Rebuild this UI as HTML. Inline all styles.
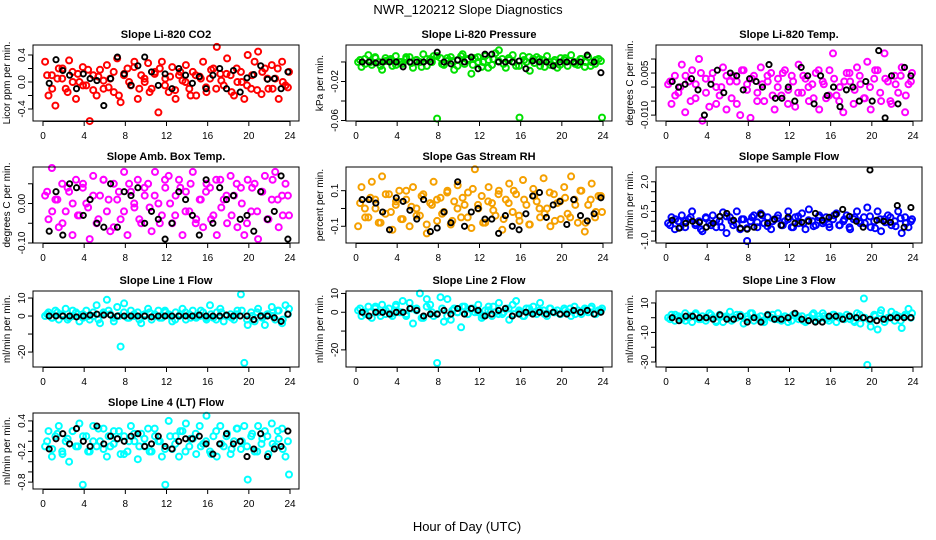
<!DOCTYPE html>
<html><head><meta charset="utf-8">
<style>
html,body{margin:0;padding:0;background:#fff;}
svg{display:block;font-family:"Liberation Sans",Arial,sans-serif;}
</style></head>
<body>
<svg id="chart" width="936" height="540" viewBox="0 0 936 540" xmlns="http://www.w3.org/2000/svg">
<rect width="936" height="540" fill="#fff"/>
<text x="468" y="14" text-anchor="middle" font-size="13">NWR_120212  Slope Diagnostics</text>
<text x="467" y="531" text-anchor="middle" font-size="13">Hour of Day (UTC)</text>
</svg>
<script>
const co2Vals=[0.3,-0.2,0.1,-0.35,0.2,0.05,-0.1,0.32,0.15,-0.25,0.0,0.22,
-0.05,-0.58,0.1,-0.2,0.18,-0.1,0.25,0.05,-0.15,0.35,-0.3,0.12,
0.2,-0.05,0.3,-0.25,0.1,0.0,0.28,-0.1,0.15,-0.45,0.3,0.05,
-0.15,0.22,-0.25,0.1,0.02,0.25,-0.1,0.15,-0.2,0.08,0.3,-0.15,
0.05,0.2,0.52,0.12,-0.05,0.35,0.1,-0.2,0.0,0.15,-0.25,0.4,
-0.1,0.3,0.45,-0.18,0.2,-0.1,0.25,0.05,-0.25,0.3,-0.05,0.15];
const co2Core=[0.1,-0.1,0.05,0.2,-0.15,0.0,0.12,-0.05,0.18,-0.12,0.08,0.02,-0.08,0.15,-0.2,0.1,0.0,0.22,-0.1,0.05,-0.15,0.12,0.2,-0.05,0.08,-0.12,0.15,0.0,-0.2,0.1,0.05,-0.08,0.18,-0.1,0.02,0.12,-0.15,0.2,0.0,-0.05,0.1,-0.12,0.15,0.05,-0.1,0.2,0.0,-0.08];
const co2Ref=[-0.02,0.33,0.17,0.1,-0.1,0.12,0.05,0.02,-0.35,0.05,0.37,0.12,-0.05,0.24,0.37,0.15,-0.05,0.12,-0.1,0.2,0.1,-0.02,0.08,-0.1,0.1,0.2,-0.1,0.17,-0.15,0.06,0.11,0.24,0.04,0.05,-0.1,0.15];
const presVals=[0.0,-0.005,0.003,0.007,-0.003,0.005,0.0,-0.008,0.004,0.002,-0.004,0.006,
0.0,-0.002,0.003,0.005,-0.006,0.002,0.0,0.008,-0.004,0.003,0.006,-0.058,
0.004,-0.003,0.001,0.005,-0.008,0.002,0.006,-0.002,0.003,-0.012,0.004,0.0,
-0.005,0.006,0.002,-0.003,0.009,0.012,0.003,-0.006,0.002,0.007,-0.004,-0.057,
0.006,0.0,-0.009,0.003,0.005,-0.004,0.002,0.006,-0.003,0.0,-0.006,0.004,
0.002,-0.004,0.007,0.0,-0.003,0.003,-0.005,0.005,0.0,-0.002,0.003,-0.057];
const presCore=[0.002,-0.002,0.0,0.004,-0.004,0.001,0.003,-0.003,0.0,0.005,-0.001,0.002,-0.005,0.003,0.0,0.006,-0.002,0.004,0.001,-0.004,0.008,0.002,-0.003,0.005,0.0,-0.006,0.003,0.001,-0.002,0.004,0.0,-0.004,0.002,0.005,-0.001,0.003,-0.005,0.0,0.002,-0.003,0.004,0.001,-0.002,0.003,0.0,-0.004,0.002,0.001];
const presRef=[0,0,-0.001,0,0,0,-0.005,0,0,0,0,0.01,0,-0.002,0.002,0,0.005,-0.007,0.008,0.008,0,0,0,0.001,-0.007,0.001,0,0,-0.004,0,0,0,0,0.007,0,-0.011];
const tempVals=[0.001,-0.006,0.004,-0.002,0.008,-0.009,0.002,0.006,-0.004,0.010,-0.012,0.003,
-0.007,0.005,0.0,-0.003,0.007,-0.008,0.002,0.004,-0.006,-0.010,0.006,0.001,
-0.011,0.004,-0.002,0.007,-0.005,0.002,0.005,-0.008,0.003,-0.003,0.006,-0.001,
0.004,-0.007,0.008,-0.002,0.003,-0.005,0.001,0.005,-0.008,0.002,-0.004,0.006,
0.012,-0.003,0.0,-0.009,0.005,0.002,-0.006,0.007,0.001,-0.004,0.009,-0.008,
0.003,0.006,-0.005,0.012,0.002,-0.006,0.004,-0.002,0.007,-0.009,0.001,0.005];
const tempCore=[0.002,-0.003,0.0,0.004,-0.005,0.001,0.005,-0.002,0.003,-0.006,0.0,0.004,-0.004,0.002,0.006,-0.001,0.003,-0.005,0.001,0.004,-0.003,0.0,0.005,-0.006,0.002,-0.002,0.004,0.0,-0.004,0.006,0.001,-0.003,0.003,-0.005,0.002,0.005,-0.001,0.004,-0.004,0.0,0.006,-0.002,0.003,-0.005,0.001,0.004,-0.003,0.002];
const tempRef=[0.002,0.0,0.001,0.003,-0.001,-0.010,0.001,0.006,-0.002,0.005,0.004,-0.001,0.003,0.002,0.0,0.008,-0.004,-0.004,0.0,-0.005,0.007,0.004,-0.006,0.004,-0.003,0.0,-0.007,-0.001,0.0,-0.005,0.002,-0.005,0.013,-0.011,0.004,-0.006,0.007,0.004];
const ambVals=[0.02,-0.04,0.09,0.01,-0.06,0.05,-0.02,0.03,-0.08,0.06,-0.03,0.04,
0.0,-0.09,0.07,-0.05,0.02,0.06,-0.02,-0.07,0.05,0.01,-0.04,0.08,
-0.08,0.03,-0.01,0.06,-0.05,0.02,0.05,-0.07,0.08,0.0,-0.03,0.04,
0.07,-0.05,0.02,0.06,-0.08,0.03,-0.02,0.08,-0.04,0.01,-0.06,0.05,
0.04,-0.03,-0.08,0.06,0.01,-0.05,0.07,0.02,-0.06,0.04,-0.08,0.06,
-0.02,0.05,-0.09,0.03,0.07,-0.04,0.01,0.08,-0.06,0.02,0.05,-0.03];
const ambCore=[0.03,-0.02,0.01,-0.05,0.04,0.0,-0.03,0.05,-0.01,0.02,-0.04,0.06,0.01,-0.06,0.03,-0.02,0.05,0.0,-0.04,0.04,-0.01,0.02,-0.05,0.06,0.0,-0.03,0.04,-0.02,0.05,-0.05,0.01,0.03,-0.04,0.06,-0.01,0.02,-0.03,0.05,0.0,-0.05,0.04,-0.02,0.03,-0.04,0.06,0.01,-0.03,0.02];
const ambRef=[-0.07,0.03,-0.08,0.05,0.04,-0.03,0.01,-0.05,-0.06,0.05,-0.06,0.03,0.02,0.04,-0.05,-0.02,-0.04,-0.09,-0.05,0.03,0.01,-0.03,-0.08,0.06,-0.05,0.04,0.01,0.02,-0.04,-0.03,-0.07,0.03,-0.04,-0.02,0.07,-0.09];
const rhVals=[-0.1,0.12,0.0,-0.05,0.15,0.05,-0.08,0.18,-0.03,0.08,-0.12,0.02,
0.1,-0.06,0.05,-0.1,0.12,0.0,-0.04,0.08,-0.14,0.03,0.15,-0.07,
0.06,-0.02,0.1,-0.09,0.04,0.13,-0.05,0.02,0.09,-0.11,0.22,0.0,
0.07,-0.08,0.12,0.03,-0.04,0.1,-0.12,0.05,0.14,-0.02,0.08,-0.07,
0.16,0.02,-0.09,0.11,0.04,-0.05,0.17,0.0,-0.1,0.08,0.03,-0.06,
0.12,-0.03,0.18,0.05,-0.08,0.1,-0.13,0.02,0.14,-0.05,0.07,-0.02];
const rhCore=[0.03,-0.05,0.06,0.0,-0.08,0.08,-0.02,0.04,-0.06,0.1,0.01,-0.04,0.07,-0.09,0.02,0.05,-0.03,0.09,-0.07,0.0,0.06,-0.05,0.11,0.02,-0.08,0.04,-0.01,0.08,-0.06,0.03,0.1,-0.04,0.05,-0.09,0.07,0.0,-0.03,0.09,-0.07,0.04,0.06,-0.05,0.02,0.1,-0.08,0.05,-0.02,0.07];
const rhRef=[0.05,0.05,0.03,-0.02,-0.12,0.06,0.04,-0.01,-0.06,0.05,-0.13,-0.11,-0.02,-0.08,0.15,-0.1,-0.02,0.0,-0.06,-0.06,-0.14,-0.04,-0.1,-0.12,-0.03,0.07,0.09,-0.05,0.02,0.04,-0.09,0.05,-0.04,-0.07,-0.03,0.06];
const sampVals=[-0.1,0.2,-0.4,0.0,0.3,-0.3,0.1,0.5,-0.2,0.0,-0.5,0.2,
-0.1,0.3,-0.3,0.0,0.45,-0.6,0.2,-0.2,0.5,-0.4,0.1,-1.0,
0.0,0.3,-0.3,0.4,-0.1,0.2,-0.4,0.1,0.3,-0.2,0.0,0.5,
-0.3,0.2,-0.1,0.4,-0.4,0.6,0.0,-0.2,0.3,-0.1,0.2,-0.3,
0.1,0.4,-0.2,0.0,0.3,-0.4,0.1,0.5,-0.1,0.2,0.7,-0.3,
0.0,0.5,-0.5,0.1,0.3,-0.2,0.0,0.5,-0.6,0.2,-0.3,0.1];
const sampCore=[-0.2,0.1,-0.3,0.0,0.2,-0.1,-0.4,0.15,-0.2,0.05,-0.3,0.25,0.0,-0.15,0.1,-0.35,0.2,-0.05,0.3,-0.25,0.0,0.15,-0.2,0.1,-0.3,0.25,-0.1,0.05,-0.25,0.2,0.0,-0.15,0.3,-0.2,0.1,-0.3,0.2,0.0,-0.1,0.25,-0.35,0.1,-0.05,0.2,-0.25,0.15,-0.1,0.0];
const sampRef=[0.05,-0.35,-0.1,0.0,-0.05,-0.3,-0.1,0.25,0.4,0.05,-0.35,-0.4,-0.3,0.35,-0.1,0.1,-0.2,0.2,-0.1,-0.05,0.0,0.4,0.05,0.2,0.35,0.6,0.25,0.0,-0.3,2.6,0.05,0.0,-0.05,0.8,-0.3,0.7];
const l1Vals=[0,2,-1,3,-2,1,4,-1,0,2,-3,1,
3,-2,0,6,-4,2,9,1,-3,5,-17,7,
-1,3,0,2,-4,1,4,-2,0,3,-1,2,
1,-3,2,0,4,-2,1,3,-1,0,2,-2,
6,-1,2,4,-3,0,1,-2,3,12,-26,-5,
2,-3,4,0,-5,1,5,-2,3,-4,6,4];
const l1Core=[1,-1,2,0,-2,3,1,-1,0,2,-2,1,3,-1,0,2,-1,1,-2,0,2,1,-1,3,0,-2,1,2,-1,0,3,-1,1,-2,2,0,-1,1,3,-2,0,2,-1,1,0,3,-2,1];
const l1Ref=[0,0,0,0,-0.5,0,0.5,1,0.5,0.5,0,0,0,0,0,-0.5,0,0,0,0,0,0,0.5,0,0,0,0.5,0,0,0,-2,0,0,-1,-3,1];
const l2Vals=[1,-2,0,3,-3,2,0,4,-1,2,-2,3,
0,6,-1,5,-6,2,10,-3,7,4,-2,-27,
8,-5,7,-4,2,0,-8,3,-1,2,0,4,
-3,1,3,-2,0,5,-1,2,-4,4,6,0,
-2,2,0,3,-1,5,1,-2,2,0,1,-1,
2,0,-2,3,1,-1,2,0,3,-1,1,2];
const l2Core=[2,-1,0,3,-2,1,-1,4,0,-2,2,1,-3,3,0,-1,2,-2,1,0,3,-1,2,0,-2,1,3,-1,0,2,-1,1,-2,2,0,1,-1,2,0,-1,1,2,-1,0,1,2,-1,1];
const l2Ref=[0,-2,0,0,-1,0,0,2,1,-2,-1,-1,1,-1,2,-1,2,1,-2,-1,1,2,-2,-1,0,-1,0,-1,0,-1,-1,1,0,1,-1,0];
const l3Vals=[0,2,-2,1,-1,3,0,-3,2,-1,1,-2,
3,0,-2,2,-3,1,4,-1,0,2,-4,1,
3,-2,0,1,-3,2,0,-1,3,-2,1,0,
-2,2,-1,1,-3,0,2,-2,1,3,-1,0,
2,-3,1,0,2,-1,-2,3,-4,13,-32,-6,
2,-8,5,-3,0,4,-2,1,-7,2,6,3];
const l3Core=[-1,2,0,-2,1,3,-1,0,2,-3,1,0,-2,2,1,-1,3,0,-2,1,2,-1,0,-3,2,1,-2,0,3,-1,1,-2,2,0,-1,1,-3,2,0,-2,1,3,-1,0,2,-2,1,0];
const l3Ref=[0,-2,1,1,0,0,-1,2,-1,-1,1,-3,0,-3,2,-1,-1,0,3,-1,-2,-3,-3,1,1,-1,1,0,0,-1,-2,-1,0,0,0,0];
const l4Vals=[-0.1,0.2,-0.3,0.1,0.3,-0.2,0.0,-0.4,0.2,-0.1,0.35,-0.85,
0.1,-0.2,0.3,-0.1,0.0,0.25,-0.3,-0.1,0.2,0.05,-0.25,0.1,
-0.2,0.3,0.0,-0.35,0.15,-0.1,0.25,-0.2,0.1,0.0,-0.3,-0.85,
0.4,-0.15,0.1,-0.3,0.2,0.35,-0.1,0.05,-0.25,0.3,-0.05,0.5,
-0.2,0.1,-0.3,0.3,-0.1,0.15,-0.25,0.0,0.25,-0.15,0.3,-0.75,
0.1,-0.2,0.3,-0.05,0.2,-0.25,0.35,-0.1,0.05,0.25,-0.3,-0.65];
const l4Core=[0.0,-0.15,0.15,-0.25,0.05,0.2,-0.1,0.1,-0.2,0.0,0.25,-0.15,0.1,-0.05,0.2,-0.25,0.0,0.15,-0.1,0.05,-0.2,0.25,0.0,-0.15,0.1,-0.05,0.2,-0.2,0.05,0.15,-0.1,0.0,-0.25,0.2,-0.05,0.1,-0.15,0.25,0.0,-0.1,0.15,-0.2,0.05,0.1,-0.05,0.2,-0.15,0.0];
const l4Ref=[-0.15,0.05,0.15,-0.05,0.25,0.0,-0.1,0.3,-0.05,0.1,0.05,0.0,0.1,0.15,-0.1,-0.05,0.1,-0.1,-0.15,0.0,0.05,0.05,0.1,-0.05,-0.25,-0.05,0.15,-0.05,0.0,-0.3,-0.15,0.15,-0.3,-0.15,-0.1,0.2];
const xTicks=[0,4,8,12,16,20,24];

const NS="http://www.w3.org/2000/svg";
const svg=document.getElementById('chart');
function mk(tag,attrs,parent){const e=document.createElementNS(NS,tag);for(const k in attrs)e.setAttribute(k,attrs[k]);(parent||svg).appendChild(e);return e;}

const panels=[
{id:'co2',title:'Slope Li-820 CO2',ylab:'Licor ppm per min.',col:0,row:0,top:0.548,bot:-0.578,ticks:[0.4,0.2,0,-0.2,-0.4],labs:{'0.4':'0.4','0':'0.0','-0.4':'-0.4'},color:'#ff0000',v:co2Vals,c:co2Core,r:co2Ref},
{id:'pressure',title:'Slope Li-820 Pressure',ylab:'kPa per min.',col:1,row:0,top:0.0174,bot:-0.0605,ticks:[0,-0.02,-0.04,-0.06],labs:{'-0.02':'-0.02','-0.06':'-0.06'},color:'#00e000',v:presVals,c:presCore,r:presRef},
{id:'temp',title:'Slope Li-820 Temp.',ylab:'degrees C per min.',col:2,row:0,top:0.015,bot:-0.0121,ticks:[0.01,0.005,0,-0.005,-0.01],labs:{'0.005':'0.005','-0.01':'-0.010'},color:'#ff00ff',v:tempVals,c:tempCore,r:tempRef},
{id:'amb-box-temp',title:'Slope Amb. Box Temp.',ylab:'degrees C per min.',col:0,row:1,top:0.0925,bot:-0.1,ticks:[0.05,0,-0.05,-0.1],labs:{'0':'0.00','-0.1':'-0.10'},color:'#ff00ff',v:ambVals,c:ambCore,r:ambRef},
{id:'gas-stream-rh',title:'Slope Gas Stream RH',ylab:'percent per min.',col:1,row:1,top:0.233,bot:-0.194,ticks:[0.1,0,-0.1],labs:{'0.1':'0.1','-0.1':'-0.1'},color:'#f5a000',v:rhVals,c:rhCore,r:rhRef},
{id:'sample-flow',title:'Slope Sample Flow',ylab:'ml/min per min.',col:2,row:1,top:2.75,bot:-1.1,ticks:[2,1.5,1,0.5,0,-0.5,-1],labs:{'2':'2.0','0.5':'0.5','-1':'-1.0'},color:'#0000ff',v:sampVals,c:sampCore,r:sampRef},
{id:'line1-flow',title:'Slope Line 1 Flow',ylab:'ml/min per min.',col:0,row:2,top:13.9,bot:-28.3,ticks:[10,0,-10,-20],labs:{'10':'10','0':'0','-20':'-20'},color:'#00ffff',v:l1Vals,c:l1Core,r:l1Ref},
{id:'line2-flow',title:'Slope Line 2 Flow',ylab:'ml/min per min.',col:1,row:2,top:11.3,bot:-29.1,ticks:[10,0,-10,-20],labs:{'10':'10','0':'0','-20':'-20'},color:'#00ffff',v:l2Vals,c:l2Core,r:l2Ref},
{id:'line3-flow',title:'Slope Line 3 Flow',ylab:'ml/min per min.',col:2,row:2,top:18.1,bot:-33.4,ticks:[10,0,-10,-20,-30],labs:{'10':'10','-10':'-10','-30':'-30'},color:'#00ffff',v:l3Vals,c:l3Core,r:l3Ref},
{id:'line4-flow',title:'Slope Line 4 (LT) Flow',ylab:'ml/min per min.',col:0,row:3,top:0.555,bot:-0.935,ticks:[0.4,0.2,0,-0.2,-0.4,-0.6,-0.8],labs:{'0.4':'0.4','-0.2':'-0.2','-0.8':'-0.8'},color:'#00ffff',v:l4Vals,c:l4Core,r:l4Ref}
];
const colLeft=[33,346,656], rowTop=[45,167,291,413], W=266, H=76;

panels.forEach(p=>{
  const L=colLeft[p.col], T=rowTop[p.row];
  const g=mk('g',{});
  
  
  const xs=h=>L+10+h*(W-19)/24;
  const ys=v=>T+(p.top-v)/(p.top-p.bot)*H;
  const t=mk('text',{x:L+W/2,y:T-7,'text-anchor':'middle','font-size':'11','font-weight':'bold'},g);
  t.textContent=p.title;
  
  
  const yl=mk('text',{x:0,y:0,transform:`translate(${L-23},${T+H/2}) rotate(-90)`,'text-anchor':'middle','font-size':'10'},g);
  yl.textContent=p.ylab;
  
  
  const pts=mk('g',{fill:'none'},g);
  
  
  const k=p.c.length;
  p.c.forEach((v,i)=>{
    const h=0.4+i*23.4/(k-1);
    const c=mk('circle',{cx:xs(h).toFixed(1),cy:ys(v).toFixed(1),r:3,stroke:p.color,'stroke-width':2},pts);
    
    
  });
  const n=p.v.length;
  p.v.forEach((v,i)=>{
    const h=0.2+i*23.7/(n-1);
    const c=mk('circle',{cx:xs(h).toFixed(1),cy:ys(v).toFixed(1),r:3,stroke:p.color,'stroke-width':2},pts);
    
    
  });
  const m=p.r.length;
  p.r.forEach((v,i)=>{
    const h=0.6+i*23.2/(m-1);
    const c=mk('circle',{cx:xs(h).toFixed(1),cy:ys(v).toFixed(1),r:2.6,stroke:'#000','stroke-width':1.9},pts);
    
    
  });
  const box=mk('rect',{x:L,y:T,width:W,height:H,fill:'none',stroke:'#000','stroke-width':1},g);
  
  
  const xa=mk('g',{},g);
  
  
  mk('line',{x1:xs(0),x2:xs(24),y1:T+H+0.5,y2:T+H+0.5,stroke:'#000'},xa);
  xTicks.forEach(h=>{
    mk('line',{x1:xs(h),x2:xs(h),y1:T+H,y2:T+H+5,stroke:'#000'},xa);
    const tl=mk('text',{x:xs(h),y:T+H+18,'text-anchor':'middle','font-size':'10'},xa);
    tl.textContent=String(h);
    
    
  });
  const ya=mk('g',{},g);
  
  
  mk('line',{x1:L-0.5,x2:L-0.5,y1:ys(p.ticks[0]),y2:ys(p.ticks[p.ticks.length-1]),stroke:'#000'},ya);
  p.ticks.forEach(v=>{
    const y=ys(v);
    mk('line',{x1:L-5,x2:L,y1:y,y2:y,stroke:'#000'},ya);
    const lab=p.labs[String(v)];
    if(lab){
      const tl=mk('text',{x:0,y:0,transform:`translate(${L-8},${y}) rotate(-90)`,'text-anchor':'middle','font-size':'10'},ya);
      tl.textContent=lab;
      
      
    }
  });
});
</script>
</body></html>
